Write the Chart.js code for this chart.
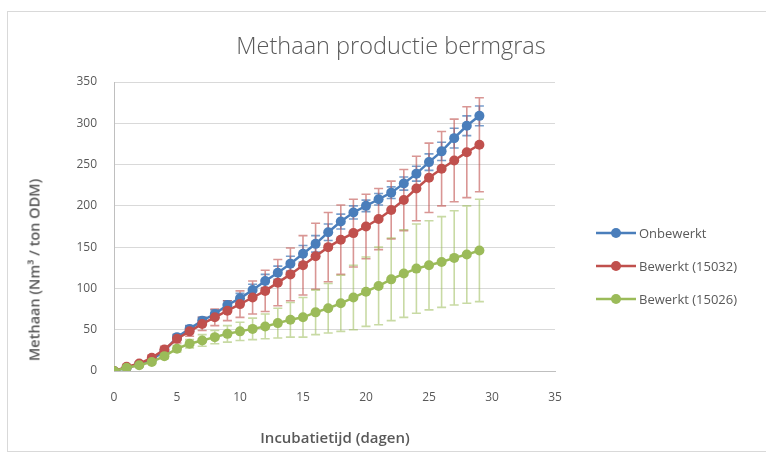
<!DOCTYPE html>
<html>
<head>
<meta charset="utf-8">
<script src="https://cdn.jsdelivr.net/npm/chart.js@4.4.1/dist/chart.umd.min.js"></script>
<style>
  html, body { margin: 0; padding: 0; background: #fff; overflow: hidden; }
  #wrap { position: relative; width: 766px; height: 455px; font-family: "Open Sans", "Liberation Sans", sans-serif; }
  #frame { position: absolute; left: 7px; top: 11px; width: 780px; height: 441px; border: 1px solid #d9d9d9; box-sizing: border-box; }
  #chart { position: absolute; left: 0; top: 0; }
  .txt { position: absolute; color: #595959; white-space: nowrap; }
  #title { left: 0; width: 782px; top: 29px; text-align: center; font-size: 23.5px; font-weight: 300; }
  #ytitle { left: 34px; top: 270px; font-size: 14.5px; font-weight: 600; transform: translate(-50%, -50%) rotate(-90deg); }
  #xtitle { left: 335px; top: 437px; font-size: 15px; font-weight: 600; transform: translate(-50%, -50%); }
  #legend { position: absolute; left: 596px; top: 224px; }
  .item { height: 33px; display: flex; align-items: flex-start; font-size: 13px; color: #595959; }
  .item svg { margin-right: 3px; margin-top: 1px; }
</style>
</head>
<body>
<div id="wrap">
  <div id="frame"></div>
  <canvas id="chart" width="766" height="455"></canvas>
  <div class="txt" id="title">Methaan productie bermgras</div>
  <div class="txt" id="ytitle">Methaan (Nm³ / ton ODM)</div>
  <div class="txt" id="xtitle">Incubatietijd (dagen)</div>
  <div id="legend"></div>
</div>
<script>
// Incubation day of each measurement
const days = [0,1,2,3,4,5,6,7,8,9,10,11,12,13,14,15,16,17,18,19,20,21,22,23,24,25,26,27,28,29];

// Cumulative methane production (Nm3 / ton ODM)
const onbewerkt    = [0,4,8,14,24,41,51,61,69,80,88,98,109,119,130,142,154,168,181,192,200,208,216,227,239,253,266,282,297,309];
const bewerkt15032 = [0,5,9,16,26,39,48,57,65,73,81,89,97,107,117,128,139,150,159,167,175,184,195,207,221,234,245,255,265,274];
const bewerkt15026 = [0,4,7,11,18,27,33,37,41,45,48,51,54,58,62,65,71,76,82,89,96,103,111,118,124,128,132,137,141,146];

// Spread (±) per measurement
const errOnbewerkt    = [0,1,1,2,2,3,4,4,5,5,6,7,8,8,9,10,10,10,9,8,7,7,7,8,9,10,11,12,12,12];
const errBewerkt15032 = [0,1,2,3,4,5,6,8,10,12,16,20,25,28,32,36,40,42,42,41,39,37,35,37,39,42,45,50,55,57];
const errBewerkt15026 = [0,1,2,2,3,4,5,7,8,10,11,13,15,18,21,24,27,30,34,39,42,47,50,53,54,54,55,57,59,62];

const seriesNames = ['Onbewerkt', 'Bewerkt (15032)', 'Bewerkt (15026)'];
const seriesColors = ['#4a7ebb', '#c0504d', '#9bbb59'];
const errorColors = ['rgba(74,126,187,0.75)', 'rgba(192,80,77,0.6)', 'rgba(155,187,89,0.55)'];

const toPoints = vals => vals.map((v, i) => ({ x: days[i], y: v }));
const seriesValues = [onbewerkt, bewerkt15032, bewerkt15026];
const seriesErrors = [errOnbewerkt, errBewerkt15032, errBewerkt15026];

// Vertical error bars with caps, drawn under the lines and markers
const errorBars = {
  id: 'errorBars',
  beforeDatasetsDraw(chart) {
    const { ctx, scales: { x, y } } = chart;
    chart.data.datasets.forEach((ds, i) => {
      ctx.save();
      ctx.strokeStyle = ds.errorColor;
      ctx.lineWidth = 1.6;
      ds.data.forEach((pt, j) => {
        const e = ds.errors[j];
        if (!e) return;
        const px = x.getPixelForValue(pt.x);
        const top = y.getPixelForValue(pt.y + e);
        const bot = y.getPixelForValue(pt.y - e);
        ctx.beginPath();
        ctx.moveTo(px, top); ctx.lineTo(px, bot);
        ctx.moveTo(px - 4.5, top); ctx.lineTo(px + 4.5, top);
        ctx.moveTo(px - 4.5, bot); ctx.lineTo(px + 4.5, bot);
        ctx.stroke();
      });
      ctx.restore();
    });
  }
};

const datasets = seriesNames.map((name, i) => ({
  label: name,
  data: toPoints(seriesValues[i]),
  errors: seriesErrors[i],
  errorColor: errorColors[i],
  borderColor: seriesColors[i],
  backgroundColor: seriesColors[i],
  pointBackgroundColor: seriesColors[i],
  pointBorderColor: seriesColors[i],
  borderWidth: 2.5,
  pointRadius: 5,
  pointBorderWidth: 0,
  tension: 0,
  order: 3 - i
}));

new Chart(document.getElementById('chart'), {
  type: 'line',
  data: { datasets },
  plugins: [errorBars],
  options: {
    responsive: false,
    animation: false,
    layout: { padding: { left: 0, right: 211, top: 82, bottom: 0 } },
    plugins: { legend: { display: false }, title: { display: false }, tooltip: { enabled: false } },
    scales: {
      x: {
        type: 'linear',
        min: 0, max: 35,
        afterFit(s) { s.height = 84; },
        ticks: { stepSize: 5, color: '#595959', padding: 19, font: { family: 'Open Sans', size: 12 } },
        grid: { display: false, drawTicks: false },
        border: { color: '#bfbfbf', width: 1 }
      },
      y: {
        min: 0, max: 350,
        afterFit(s) { s.width = 114; },
        ticks: { stepSize: 50, color: '#595959', padding: 17, font: { family: 'Open Sans', size: 12 } },
        grid: { color: '#d9d9d9', lineWidth: 1, drawTicks: false },
        border: { color: '#bfbfbf', width: 1 }
      }
    }
  }
});

// Legend: line with round marker, then series name
const legend = document.getElementById('legend');
seriesNames.forEach((name, i) => {
  const row = document.createElement('div');
  row.className = 'item';
  row.innerHTML = '<svg width="40" height="16"><line x1="0" y1="8" x2="40" y2="8" stroke="' + seriesColors[i] +
    '" stroke-width="2.5"/><circle cx="20" cy="8" r="5" fill="' + seriesColors[i] + '"/></svg><span>' + name + '</span>';
  legend.appendChild(row);
});
</script>
</body>
</html>
